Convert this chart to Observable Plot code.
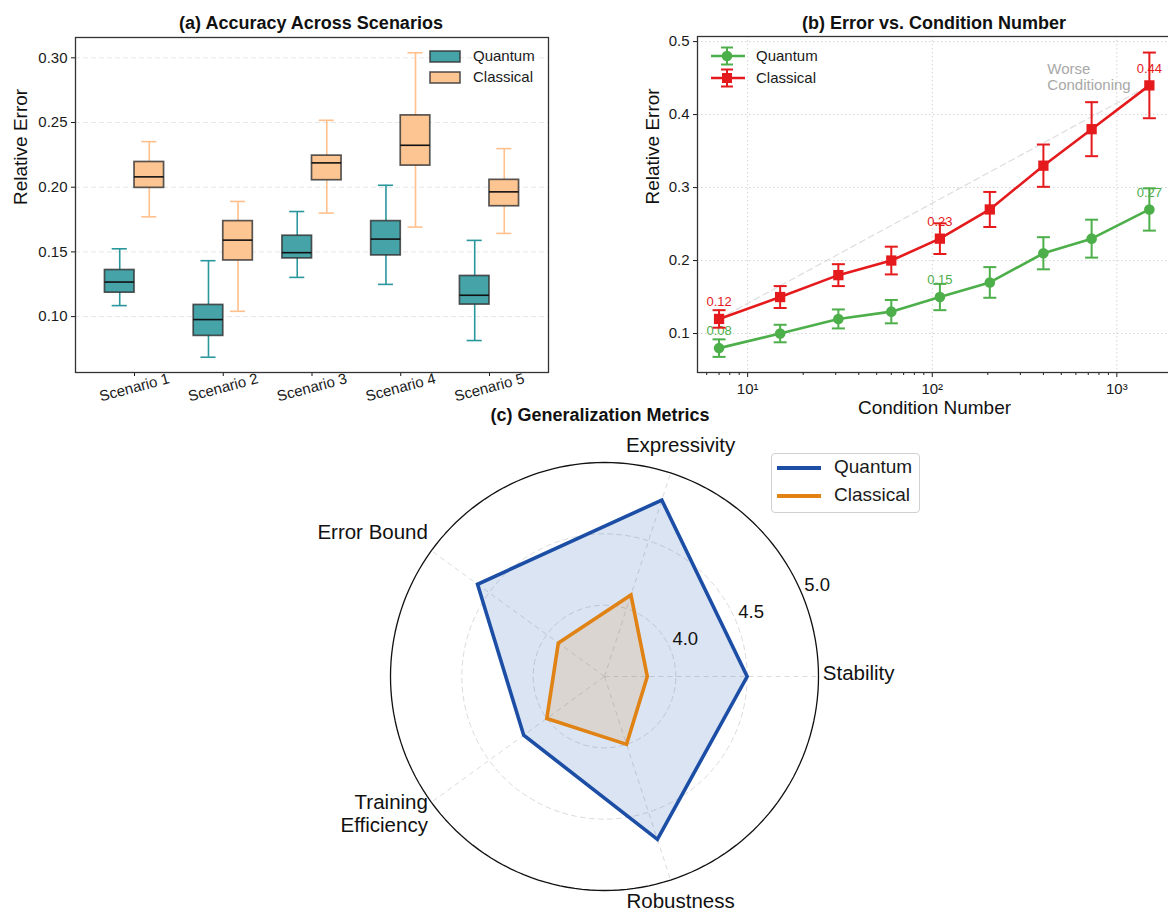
<!DOCTYPE html>
<html>
<head>
<meta charset="utf-8">
<script src="https://cdn.jsdelivr.net/npm/d3@7"></script>
<script src="https://cdn.jsdelivr.net/npm/@observablehq/plot@0.6"></script>
<style>
  html, body { margin: 0; padding: 0; background: #ffffff; overflow: hidden; }
  #page { position: relative; width: 1168px; height: 911px; overflow: hidden; background: #fff;
          font-family: "Liberation Sans", Arial, Helvetica, sans-serif; color: #111; }
  .title { position: absolute; font-weight: bold; font-size: 18px; white-space: nowrap;
           transform: translate(-50%, -50%); color: #111; }
  .leg { position: absolute; white-space: nowrap; color: #1a1a1a; }
</style>
</head>
<body>
<div id="page"></div>
<script>
// ---------------- DATA ----------------
// (a) Accuracy across scenarios — box plot summaries
const scenarios = ["Scenario 1", "Scenario 2", "Scenario 3", "Scenario 4", "Scenario 5"];
const quantumMin    = [0.1085, 0.0686, 0.1303, 0.1249, 0.0815];
const quantumQ1     = [0.1185, 0.0851, 0.1450, 0.1473, 0.1093];
const quantumMedian = [0.1267, 0.0977, 0.1494, 0.1599, 0.1165];
const quantumQ3     = [0.1360, 0.1090, 0.1625, 0.1738, 0.1314];
const quantumMax    = [0.1524, 0.1432, 0.1812, 0.2015, 0.1589];
const classicalMin    = [0.1771, 0.1041, 0.1800, 0.1692, 0.1643];
const classicalQ1     = [0.1995, 0.1434, 0.2054, 0.2167, 0.1853];
const classicalMedian = [0.2080, 0.1591, 0.2188, 0.2324, 0.1964];
const classicalQ3     = [0.2195, 0.1738, 0.2244, 0.2555, 0.2057];
const classicalMax    = [0.2352, 0.1890, 0.2517, 0.3039, 0.2298];
const accuracyTicks = [0.10, 0.15, 0.20, 0.25, 0.30];

// (b) Error vs condition number
const conditionNumbers = [7, 15, 31, 60, 110, 205, 400, 730, 1500];
const quantumError   = [0.08, 0.10, 0.12, 0.13, 0.15, 0.17, 0.21, 0.23, 0.27];
const quantumStd     = [0.012, 0.012, 0.013, 0.016, 0.018, 0.021, 0.022, 0.026, 0.029];
const classicalError = [0.12, 0.15, 0.18, 0.20, 0.23, 0.27, 0.33, 0.38, 0.44];
const classicalStd   = [0.012, 0.015, 0.015, 0.019, 0.021, 0.024, 0.029, 0.037, 0.045];
const labeledIndices = [0, 4, 8];
const errorTicks = [0.1, 0.2, 0.3, 0.4, 0.5];
const conditionTicks = [10, 100, 1000];
const annotationText = "Worse\nConditioning";

// (c) Generalization metrics — radar
const metrics = ["Stability", "Expressivity", "Error Bound", "Training\nEfficiency", "Robustness"];
const quantumScores   = [4.5, 4.8, 4.6, 4.2, 4.7];
const classicalScores = [3.8, 4.1, 3.9, 4.0, 4.0];
const radialTicks = [4.0, 4.5, 5.0];
const radialOrigin = 3.5;

// ---------------- HELPERS ----------------
const FONT = '"Liberation Sans", Arial, Helvetica, sans-serif';
const page = document.getElementById("page");
function put(el, left, top) {
  el.style.position = "absolute";
  el.style.left = left + "px";
  el.style.top = top + "px";
  page.appendChild(el);
  return el;
}
function div(html, cls, left, top, css = {}) {
  const d = document.createElement("div");
  d.className = cls;
  d.innerHTML = html;
  Object.assign(d.style, css);
  return put(d, left, top);
}
function svgEl(w, h, inner) {
  const d = document.createElement("div");
  d.innerHTML = `<svg width="${w}" height="${h}" viewBox="0 0 ${w} ${h}" xmlns="http://www.w3.org/2000/svg">${inner}</svg>`;
  return d.firstChild;
}

// ---------------- PANEL (a) ----------------
const boxWidth = 0.333;
const capHalf = 0.085;
const boxGroups = [
  {name: "Quantum", side: -1, min: quantumMin, q1: quantumQ1, med: quantumMedian, q3: quantumQ3, max: quantumMax,
   fill: "#46a3a8", whisker: "#2a979c"},
  {name: "Classical", side: 1, min: classicalMin, q1: classicalQ1, med: classicalMedian, q3: classicalQ3, max: classicalMax,
   fill: "#fdc592", whisker: "#ffc08d"}
];
const marksA = [
  Plot.ruleY(accuracyTicks, {stroke: "#e6e6e6", strokeDasharray: "5,3", strokeWidth: 1})
];
for (const g of boxGroups) {
  const rows = scenarios.map((s, i) => ({
    pos: i + g.side * boxWidth / 2,
    min: g.min[i], q1: g.q1[i], med: g.med[i], q3: g.q3[i], max: g.max[i]
  }));
  marksA.push(
    Plot.ruleX(rows, {x: "pos", y1: "min", y2: "q1", stroke: g.whisker, strokeWidth: 1.6}),
    Plot.ruleX(rows, {x: "pos", y1: "q3", y2: "max", stroke: g.whisker, strokeWidth: 1.6}),
    Plot.ruleY(rows, {y: "min", x1: d => d.pos - capHalf, x2: d => d.pos + capHalf, stroke: g.whisker, strokeWidth: 1.6}),
    Plot.ruleY(rows, {y: "max", x1: d => d.pos - capHalf, x2: d => d.pos + capHalf, stroke: g.whisker, strokeWidth: 1.6}),
    Plot.rect(rows, {x1: d => d.pos - boxWidth / 2, x2: d => d.pos + boxWidth / 2, y1: "q1", y2: "q3",
                     fill: g.fill, stroke: "#2e2e2e", strokeOpacity: 0.8, strokeWidth: 1.7}),
    Plot.ruleY(rows, {y: "med", x1: d => d.pos - boxWidth / 2, x2: d => d.pos + boxWidth / 2, stroke: "#111", strokeWidth: 1.6})
  );
}
marksA.push(
  Plot.axisY({ticks: accuracyTicks, tickFormat: d3.format(".2f"), tickSize: 4, tickPadding: 4, label: null, fontSize: 15}),
  Plot.axisX({ticks: d3.range(scenarios.length), tickFormat: i => scenarios[i], tickRotate: -15, tickSize: 4,
              tickPadding: 11, label: null, fontSize: 15, textAnchor: "middle"}),
  Plot.text(["Relative Error"], {frameAnchor: "left", dx: -55, rotate: -90, fontSize: 19, fill: "#111"}),
  Plot.frame({stroke: "#333", strokeWidth: 1.3})
);
const plotA = Plot.plot({
  width: 560, height: 420,
  marginLeft: 75, marginRight: 12, marginTop: 37, marginBottom: 48,
  x: {domain: [-0.665, scenarios.length - 1 + 0.665]},
  y: {domain: [0.0568, 0.3157]},
  style: {fontFamily: FONT, fontSize: "15px", color: "#1a1a1a", background: "transparent"},
  marks: marksA
});
put(plotA, 0, 0);
div("(a) Accuracy Across Scenarios", "title", 311, 23);

// legend (a)
boxGroups.forEach((g, k) => {
  put(svgEl(33, 14, `<rect x="1" y="1" width="30" height="11" fill="${g.fill}" stroke="#2e2e2e" stroke-opacity="0.8" stroke-width="1.6"/>`), 429, 50 + k * 20.5);
  div(g.name, "leg", 473, 47 + k * 20.5, {fontSize: "15px"});
});

// ---------------- PANEL (b) ----------------
const capSymbol = {
  draw(context, size) {
    const w = Math.sqrt(size / Math.PI);
    context.moveTo(-w, 0);
    context.lineTo(w, 0);
  }
};
const seriesB = [
  {name: "Quantum", y: quantumError, s: quantumStd, color: "#4daf4a", symbol: "circle", r: 5.3},
  {name: "Classical", y: classicalError, s: classicalStd, color: "#e41a1c", symbol: "square", r: 5.8}
];
const minorTicks = [6, 7, 8, 9, ...d3.range(20, 100, 10), ...d3.range(200, 1000, 100)];
const marksB = [
  Plot.ruleY(errorTicks, {stroke: "#d4d4d4", strokeDasharray: "1.5,2.5", strokeWidth: 1}),
  Plot.ruleX(conditionTicks, {stroke: "#d4d4d4", strokeDasharray: "1.5,2.5", strokeWidth: 1}),
  Plot.line([0, conditionNumbers.length - 1], {
    x: i => conditionNumbers[i], y: i => classicalError[i],
    stroke: "#d2d2d2", strokeDasharray: "6,4", strokeWidth: 1.2, strokeOpacity: 0.75
  })
];
for (const sr of seriesB) {
  const rows = conditionNumbers.map((c, i) => ({x: c, y: sr.y[i], lo: sr.y[i] - sr.s[i], hi: sr.y[i] + sr.s[i]}));
  marksB.push(
    Plot.ruleX(rows, {x: "x", y1: "lo", y2: "hi", stroke: sr.color, strokeWidth: 2}),
    Plot.dot(rows, {x: "x", y: "lo", symbol: capSymbol, r: 6.5, stroke: sr.color, fill: "none", strokeWidth: 2}),
    Plot.dot(rows, {x: "x", y: "hi", symbol: capSymbol, r: 6.5, stroke: sr.color, fill: "none", strokeWidth: 2}),
    Plot.line(rows, {x: "x", y: "y", stroke: sr.color, strokeWidth: 2.6, strokeLinejoin: "round"}),
    Plot.dot(rows, {x: "x", y: "y", symbol: sr.symbol, r: sr.r, fill: sr.color, stroke: "none"}),
    Plot.text(labeledIndices.map(i => rows[i]), {
      x: "x", y: "y", text: d => d3.format(".2f")(d.y), dy: -17, fill: sr.color, fontSize: 13
    })
  );
}
const sup = {1: "\u00b9", 2: "\u00b2", 3: "\u00b3"};
marksB.push(
  Plot.text([annotationText], {x: 420, y: 0.452, text: d => d, textAnchor: "start", lineAnchor: "middle",
                               fill: "#a8a8a8", fontSize: 15, lineHeight: 1.08}),
  Plot.axisX({ticks: minorTicks, tickSize: 3, tickFormat: () => "", label: null}),
  Plot.axisX({ticks: conditionTicks, tickSize: 5, tickPadding: 6, label: null, fontSize: 15,
              tickFormat: d => "10" + sup[Math.round(Math.log10(d))]}),
  Plot.axisY({ticks: errorTicks, tickFormat: d3.format(".1f"), tickSize: 4, tickPadding: 4, label: null, fontSize: 15}),
  Plot.text(["Relative Error"], {frameAnchor: "left", dx: -45, rotate: -90, fontSize: 19, fill: "#111"}),
  Plot.text(["Condition Number"], {frameAnchor: "bottom", dy: 41, fontSize: 19, fill: "#111"}),
  Plot.frame({stroke: "#333", strokeWidth: 1.3})
);
const plotB = Plot.plot({
  width: 591, height: 420,
  marginLeft: 117, marginRight: 0, marginTop: 36, marginBottom: 48,
  x: {type: "log", domain: [5.35, 1977]},
  y: {domain: [0.0466, 0.507]},
  style: {fontFamily: FONT, fontSize: "15px", color: "#1a1a1a", background: "transparent"},
  marks: marksB
});
put(plotB, 580, 0);
div("(b) Error vs. Condition Number", "title", 934, 23);

// legend (b)
seriesB.forEach((sr, k) => {
  const marker = sr.symbol === "circle"
    ? `<circle cx="17" cy="10" r="5.3" fill="${sr.color}"/>`
    : `<rect x="12" y="5" width="10" height="10" fill="${sr.color}"/>`;
  put(svgEl(36, 20,
    `<line x1="1" y1="10" x2="35" y2="10" stroke="${sr.color}" stroke-width="2.6"/>
     <line x1="17" y1="1.5" x2="17" y2="18.5" stroke="${sr.color}" stroke-width="2"/>
     <line x1="11" y1="1.5" x2="23" y2="1.5" stroke="${sr.color}" stroke-width="2"/>
     <line x1="11" y1="18.5" x2="23" y2="18.5" stroke="${sr.color}" stroke-width="2"/>
     ${marker}`), 710, 46 + k * 21.5);
  div(sr.name, "leg", 756, 47 + k * 21.5, {fontSize: "15px"});
});

// ---------------- PANEL (c) ----------------
const R = 214;                 // pixel radius of the outer ring
const cxPx = 320, cyPx = 246;  // centre inside the svg
const wC = 640, hC = 481;
const rMax = radialTicks[radialTicks.length - 1];
const rr = v => (v - radialOrigin) / (rMax - radialOrigin);
const nM = metrics.length;
const ang = k => 2 * Math.PI * k / nM;
const polar = (v, k) => ({x: rr(v) * Math.cos(ang(k)), y: rr(v) * Math.sin(ang(k))});

const ringRows = radialTicks.flatMap(t => d3.range(0, 181).map(j => ({
  t, x: rr(t) * Math.cos(2 * Math.PI * j / 180), y: rr(t) * Math.sin(2 * Math.PI * j / 180)
})));
const quantumPts = quantumScores.map((v, k) => polar(v, k));
const classicalPts = classicalScores.map((v, k) => polar(v, k));
const spokeRows = metrics.map((m, k) => ({x: Math.cos(ang(k)), y: Math.sin(ang(k))}));
const labelRows = metrics.map((m, k) => {
  const c = Math.cos(ang(k)), s = Math.sin(ang(k));
  const side = Math.abs(c) > 0.5;
  return {m, x: c * (side ? 1.02 : 1.15), y: s * 1.12,
          anchor: side ? (c > 0 ? "start" : "end") : "middle"};
});
const rlabAngle = Math.PI / 8; // 22.5°

const marksC = [
  Plot.line(ringRows.filter(d => d.t < rMax), {x: "x", y: "y", z: "t", stroke: "#dcdcdc", strokeDasharray: "5,4", strokeWidth: 1}),
  Plot.link(spokeRows, {x1: 0, y1: 0, x2: "x", y2: "y", stroke: "#dcdcdc", strokeDasharray: "5,4", strokeWidth: 1}),
  Plot.line(quantumPts, {x: "x", y: "y", curve: "linear-closed", fill: "#1f55b0", fillOpacity: 0.16,
                         stroke: "#1c4ea6", strokeWidth: 3.6, strokeLinejoin: "miter", strokeMiterlimit: 10}),
  Plot.line(classicalPts, {x: "x", y: "y", curve: "linear-closed", fill: "#e08214", fillOpacity: 0.15,
                           stroke: "#e08214", strokeWidth: 3.6, strokeLinejoin: "miter", strokeMiterlimit: 10}),
  Plot.line(ringRows.filter(d => d.t === rMax), {x: "x", y: "y", stroke: "#111", strokeWidth: 1.3}),
  Plot.text(radialTicks, {x: t => rr(t) * Math.cos(rlabAngle), y: t => rr(t) * Math.sin(rlabAngle),
                          text: d3.format(".1f"), textAnchor: "start", lineAnchor: "bottom", dx: 2, dy: -4,
                          fontSize: 18.5, fill: "#111"})
];
for (const a of ["start", "middle", "end"]) {
  marksC.push(Plot.text(labelRows.filter(d => d.anchor === a), {
    x: "x", y: "y", text: "m", textAnchor: a, lineAnchor: "middle", dy: -4,
    fontSize: 20.5, lineHeight: 1.1, fill: "#111"
  }));
}
const plotC = Plot.plot({
  width: wC, height: hC,
  margin: 0,
  x: {domain: [-cxPx / R, (wC - cxPx) / R], axis: null},
  y: {domain: [-(hC - cyPx) / R, cyPx / R], axis: null},
  style: {fontFamily: FONT, fontSize: "18px", color: "#111", background: "transparent", overflow: "visible"},
  marks: marksC
});
put(plotC, 604 - cxPx, 676 - cyPx);
div("(c) Generalization Metrics", "title", 600, 415);

// legend (c)
const legC = document.createElement("div");
Object.assign(legC.style, {width: "147px", height: "58px", border: "1px solid #d0d0d0", borderRadius: "4px", background: "#fff"});
put(legC, 771, 453);
[["Quantum", "#1c4ea6"], ["Classical", "#e08214"]].forEach(([name, col], k) => {
  put(svgEl(44, 6, `<line x1="0" y1="3" x2="44" y2="3" stroke="${col}" stroke-width="4"/>`), 777, 465 + k * 27.5);
  div(name, "leg", 834, 456 + k * 27.5, {fontSize: "19px"});
});
</script>
</body>
</html>
